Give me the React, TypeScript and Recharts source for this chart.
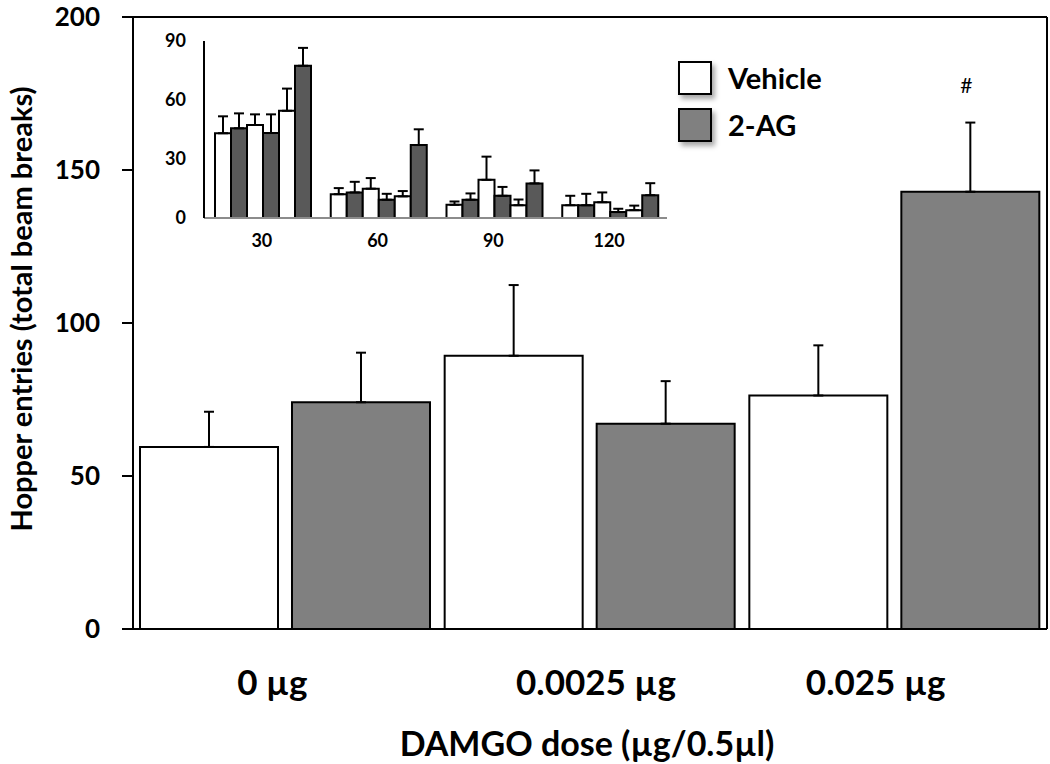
import React from "react";
import {
  BarChart,
  Bar,
  XAxis,
  YAxis,
  ErrorBar,
  Legend,
  LabelList,
  Label,
  ReferenceLine,
} from "recharts";

// ─── Main chart: hopper entries by DAMGO dose ───────────────
const doses = ["0 µg", "0.0025 µg", "0.025 µg"];
const vehicleMean = [59.5, 89.3, 76.3];
const vehicleSem = [11.5, 23.1, 16.4];
const agMean = [74.1, 67.1, 142.9];
const agSem = [16.2, 13.9, 22.6];
const agMark = ["", "", "#"];
const yTicks = [0, 50, 100, 150, 200];
const legendOrder = ["Vehicle", "2-AG"];

// ─── Inset: time course (min) ───────────────────────────────
const minutes = ["30", "60", "90", "120"];
const insetVeh0 = [43.1, 12.1, 6.7, 6.5];
const insetVeh0Sem = [8.6, 3.1, 1.7, 4.8];
const insetAg0 = [45.6, 13.0, 9.3, 6.5];
const insetAg0Sem = [7.6, 5.4, 3.2, 5.8];
const insetVehLow = [47.3, 14.9, 19.4, 8.0];
const insetVehLowSem = [5.4, 5.4, 11.8, 5.0];
const insetAgLow = [43.2, 9.3, 11.3, 3.0];
const insetAgLowSem = [9.5, 3.0, 4.5, 1.7];
const insetVehHigh = [54.5, 11.0, 6.5, 4.0];
const insetVehHighSem = [11.3, 2.7, 2.9, 2.3];
const insetAgHigh = [77.4, 37.1, 17.6, 11.6];
const insetAgHighSem = [9.1, 8.0, 6.6, 6.1];
const insetTicks = [0, 30, 60, 90];

const FONT = "Lato, 'Open Sans', sans-serif";
const WHITE = "#ffffff";
const GREY = "#808080";
const DARK = "#595959";
// dose labels sit a little off the band centres in the original
const doseLabelShift = [-13, 6, -19];

const mainData = doses.map((dose, i) => ({
  dose,
  vehicle: vehicleMean[i],
  vehicleErr: [0, vehicleSem[i]],
  ag: agMean[i],
  agErr: [0, agSem[i]],
}));

const insetSeries = [
  { key: "v0", mean: insetVeh0, sem: insetVeh0Sem, fill: WHITE },
  { key: "a0", mean: insetAg0, sem: insetAg0Sem, fill: DARK },
  { key: "vLow", mean: insetVehLow, sem: insetVehLowSem, fill: WHITE },
  { key: "aLow", mean: insetAgLow, sem: insetAgLowSem, fill: DARK },
  { key: "vHigh", mean: insetVehHigh, sem: insetVehHighSem, fill: WHITE },
  { key: "aHigh", mean: insetAgHigh, sem: insetAgHighSem, fill: DARK },
];

const insetData = minutes.map((min, i) => {
  const row: any = { min };
  insetSeries.forEach((s) => {
    row[s.key] = s.mean[i];
    row[s.key + "Err"] = [0, s.sem[i]];
  });
  return row;
});

// legend with shadowed boxes
const BoxLegend = ({ payload }: any) => {
  const items = [...(payload || [])].sort(
    (a: any, b: any) => legendOrder.indexOf(a.value) - legendOrder.indexOf(b.value)
  );
  return (
    <div>
      {items.map((p: any, i: number) => (
        <div key={i} style={{ display: "flex", alignItems: "center", height: 47 }}>
          <span
            style={{
              width: 30,
              height: 30,
              background: p.color,
              border: "2px solid #000",
              boxShadow: "3px 4px 5px rgba(0,0,0,0.35)",
            }}
          />
          <span
            style={{
              marginLeft: 16,
              fontFamily: FONT,
              fontWeight: 700,
              fontSize: 29,
              color: "#000",
            }}
          >
            {p.value}
          </span>
        </div>
      ))}
    </div>
  );
};

// "#" above the error bar of the marked 2-AG bar
const HashMark = (props: any) => {
  const vb = props.viewBox || props;
  const { x, y, width, height } = vb;
  const i = props.index;
  const mark = agMark[i];
  if (!mark) return null;
  const perUnit = height / agMean[i];
  const errTop = y - agSem[i] * perUnit;
  return (
    <text
      x={x + width / 2 - 4}
      y={errTop - 38}
      textAnchor="middle"
      dominantBaseline="central"
      fontFamily={FONT}
      fontSize={21}
      fill="#000"
    >
      {mark}
    </text>
  );
};

const DoseTick = (props: any) => {
  const { x, y, payload, index } = props;
  return (
    <text
      x={x + (doseLabelShift[index] || 0)}
      y={y + 50}
      textAnchor="middle"
      dominantBaseline="central"
      fontFamily={FONT}
      fontWeight={700}
      fontSize={35}
      fill="#000"
    >
      {payload.value}
    </text>
  );
};

const YTitle = (props: any) => {
  const { x, y, height } = props.viewBox;
  const cx = x + 20;
  const cy = y + height / 2 - 14;
  return (
    <text
      x={cx}
      y={cy}
      transform={`rotate(-90 ${cx} ${cy})`}
      textAnchor="middle"
      dominantBaseline="central"
      fontFamily={FONT}
      fontWeight={700}
      fontSize={29}
      fill="#000"
    >
      Hopper entries (total beam breaks)
    </text>
  );
};

const XTitle = (props: any) => {
  const { x, y, width } = props.viewBox;
  return (
    <text
      x={x + width / 2 - 3}
      y={y + 113}
      textAnchor="middle"
      dominantBaseline="central"
      fontFamily={FONT}
      fontWeight={700}
      fontSize={34}
      fill="#000"
    >
      DAMGO dose (µg/0.5µl)
    </text>
  );
};

export default function App() {
  return (
    <div style={{ position: "absolute", left: 0, top: 0, width: 1050, height: 764, background: "#fff" }}>
      <BarChart
        width={1050}
        height={764}
        data={mainData}
        margin={{ top: 17, right: 0, bottom: 0, left: 0 }}
        barCategoryGap={7}
        barGap={14}
      >
        <XAxis
          dataKey="dose"
          height={135}
          tickLine={false}
          tickSize={0}
          axisLine={{ stroke: "#000", strokeWidth: 2 }}
          tick={<DoseTick />}
        >
          <Label content={<XTitle />} />
        </XAxis>
        <YAxis
          width={133}
          domain={[0, 200]}
          ticks={yTicks}
          interval={0}
          tickSize={11}
          tickMargin={22}
          axisLine={{ stroke: "#000", strokeWidth: 2 }}
          tickLine={{ stroke: "#000", strokeWidth: 2 }}
          tick={{ fontFamily: FONT, fontWeight: 700, fontSize: 26, fill: "#000" }}
        >
          <Label content={<YTitle />} />
        </YAxis>
        <YAxis
          yAxisId="frame"
          orientation="right"
          width={3}
          domain={[0, 200]}
          tick={false}
          tickLine={false}
          axisLine={{ stroke: "#000", strokeWidth: 2 }}
        />
        <ReferenceLine y={200} stroke="#000" strokeWidth={2} />
        <Legend
          layout="vertical"
          align="center"
          verticalAlign="middle"
          content={<BoxLegend />}
          wrapperStyle={{ left: 678, top: 54, width: 200 }}
        />
        <Bar
          dataKey="vehicle"
          name="Vehicle"
          fill={WHITE}
          stroke="#000"
          strokeWidth={2}
          isAnimationActive={false}
        >
          <ErrorBar dataKey="vehicleErr" direction="y" width={5} stroke="#000" strokeWidth={2} />
        </Bar>
        <Bar
          dataKey="ag"
          name="2-AG"
          fill={GREY}
          stroke="#000"
          strokeWidth={2}
          isAnimationActive={false}
        >
          <ErrorBar dataKey="agErr" direction="y" width={5} stroke="#000" strokeWidth={2} />
          <LabelList dataKey="ag" content={<HashMark />} />
        </Bar>
      </BarChart>

      {/* inset: time course */}
      <div style={{ position: "absolute", left: 150, top: 30 }}>
        <BarChart
          width={530}
          height={230}
          data={insetData}
          margin={{ top: 11, right: 13, bottom: 0, left: 0 }}
          barCategoryGap={11}
          barGap={0}
        >
          <XAxis
            dataKey="min"
            height={42}
            tickLine={false}
            tickSize={0}
            tickMargin={16}
            axisLine={{ stroke: "#8c8c8c", strokeWidth: 2 }}
            tick={{ fontFamily: FONT, fontWeight: 700, fontSize: 18, fill: "#000" }}
          />
          <YAxis
            width={54}
            domain={[0, 90]}
            ticks={insetTicks}
            interval={0}
            tickLine={false}
            tickSize={0}
            tickMargin={18}
            axisLine={{ stroke: "#000", strokeWidth: 2 }}
            tick={{ fontFamily: FONT, fontWeight: 700, fontSize: 18, fill: "#000" }}
          />
          {insetSeries.map((s) => (
            <Bar
              key={s.key}
              dataKey={s.key}
              fill={s.fill}
              stroke="#000"
              strokeWidth={2}
              legendType="none"
              isAnimationActive={false}
            >
              <ErrorBar dataKey={s.key + "Err"} direction="y" width={5} stroke="#000" strokeWidth={2} />
            </Bar>
          ))}
        </BarChart>
      </div>
    </div>
  );
}
